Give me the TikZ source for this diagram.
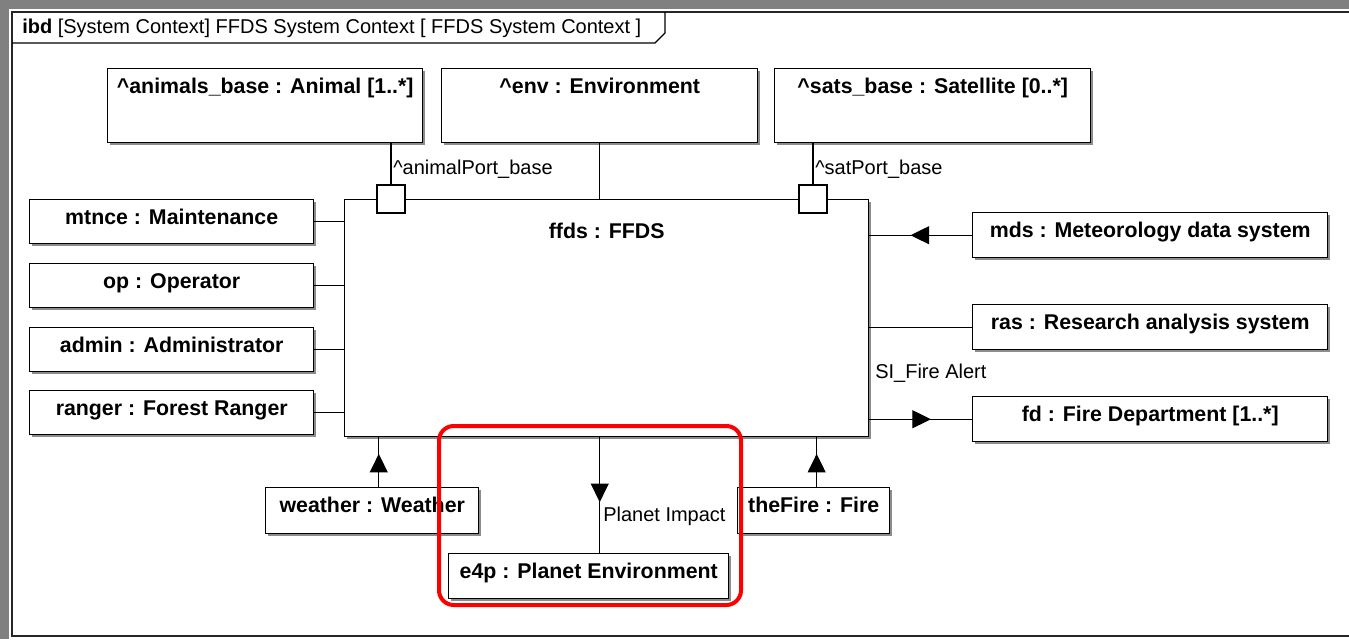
\documentclass[tikz,border=0pt]{standalone}
\usepackage{fontspec}
\setmainfont{Liberation Sans}
\usetikzlibrary{arrows.meta,shadows,decorations.markings}

\newcommand\partfont{\fontsize{16}{18}\selectfont\bfseries}
\newcommand\tagfont{\fontsize{15}{17}\selectfont}

\tikzset{
  part/.style={draw, line width=1.1pt, fill=white, font=\partfont, anchor=north west,
    inner ysep=0pt, text height=18.5pt,
    drop shadow={shadow xshift=2pt, shadow yshift=-2pt, fill=black!45, opacity=1}},
  port/.style={draw, line width=1.1pt, fill=white, minimum size=21pt, inner sep=0pt},
  tag/.style={font=\tagfont, anchor=west, inner sep=0pt},
  link/.style={line width=0.9pt},
  flow at/.style={postaction={decorate}, decoration={markings,
    mark=at position #1 with {\arrow{Triangle[width=13.5pt,length=14pt]}}}}
}

\begin{document}
\begin{tikzpicture}[x=0.75pt, y=-0.75pt]
  \useasboundingbox (0,0) rectangle (1349,639);
  % screen edge and diagram frame
  \fill[black!50] (0,0) rectangle (1349,9);
  \fill[black!50] (0,0) rectangle (9,639);
  \draw[line width=1.3pt, black!85] (1349,12) -- (12,12) -- (12,636) -- (1349,636);
  \draw[line width=1pt] (12,43) -- (655,43) -- (665,33) -- (665,12);
  \node[tag] (title) at (22,28) {\textbf{ibd} [System Context] FFDS System Context [ FFDS System Context ]};

  % system block and its ports
  \node[part, minimum width=393pt, text height=29pt, text depth=148.75pt] (ffds) at (344,199) {ffds : FFDS};
  \node[port] (aport) at (391,199) {};
  \node[port] (sport) at (813,199) {};

  % top parts
  \node[part, minimum width=236.25pt, text depth=37pt] (animals) at (107,68) {\textasciicircum animals\_base : Animal [1..*]};
  \node[part, minimum width=237pt, text depth=37pt] (env) at (441,68) {\textasciicircum env : Environment};
  \node[part, minimum width=237pt, text depth=37pt] (sats) at (774,68) {\textasciicircum sats\_base : Satellite [0..*]};
  \draw[link] (animals.south -| aport) -- (aport.north);
  \draw[link] (env.south) -- (env.south |- ffds.north);
  \draw[link] (sats.south -| sport) -- (sport.north);
  \node[tag] (aportlbl) at (393,169) {\textasciicircum animalPort\_base};
  \node[tag] (sportlbl) at (815,169) {\textasciicircum satPort\_base};

  % actors on the left
  \foreach \n/\t/\y in {mtnce/{mtnce : Maintenance}/199, op/{op : Operator}/263,
      admin/{admin : Administrator}/327, ranger/{ranger : Forest Ranger}/390} {
    \node[part, minimum width=213pt, text depth=14.5pt] (\n) at (29,\y) {\t};
    \draw[link] (\n.east) -- (\n.east -| ffds.west);
  }

  % external systems on the right
  \node[part, minimum width=266.25pt, text depth=15.25pt] (mds) at (972,212) {mds : Meteorology data system};
  \node[part, minimum width=266.25pt, text depth=15.25pt] (ras) at (972,304) {ras : Research analysis system};
  \node[part, minimum width=266.25pt, text depth=15.25pt] (fd) at (972,396) {fd : Fire Department [1..*]};
  \draw[link, flow at=0.6] (mds.west) -- (mds.west -| ffds.east);
  \draw[link] (ras.west) -- (ras.west -| ffds.east);
  \draw[link, flow at=0.6] (fd.west -| ffds.east) -- (fd.west);
  \node[tag] (alert) at (875,373) {SI\_Fire Alert};

  % parts below
  \node[part, minimum width=159.75pt, text depth=16pt] (weather) at (265,487) {weather : Weather};
  \node[part, minimum width=114pt, text depth=16pt] (fire) at (737,487) {theFire : Fire};
  \node[part, minimum width=210pt, text depth=15.25pt] (e4p) at (448,553) {e4p : Planet Environment};
  \coordinate (wtop) at ([xshift=4.9pt]weather.north);
  \coordinate (ftop) at ([xshift=2.2pt]fire.north);
  \draw[link, flow at=0.67] (wtop) -- (wtop |- ffds.south);
  \draw[link, flow at=0.67] (ftop) -- (ftop |- ffds.south);
  \draw[link, flow at=0.56] (env.south |- ffds.south) -- (env.south |- e4p.north);
  \node[tag] (impact) at (603,516) {Planet Impact};

  % highlight
  \draw[red, line width=3pt, rounded corners=11pt] (439,426) rectangle (741,605);
\end{tikzpicture}
\end{document}
